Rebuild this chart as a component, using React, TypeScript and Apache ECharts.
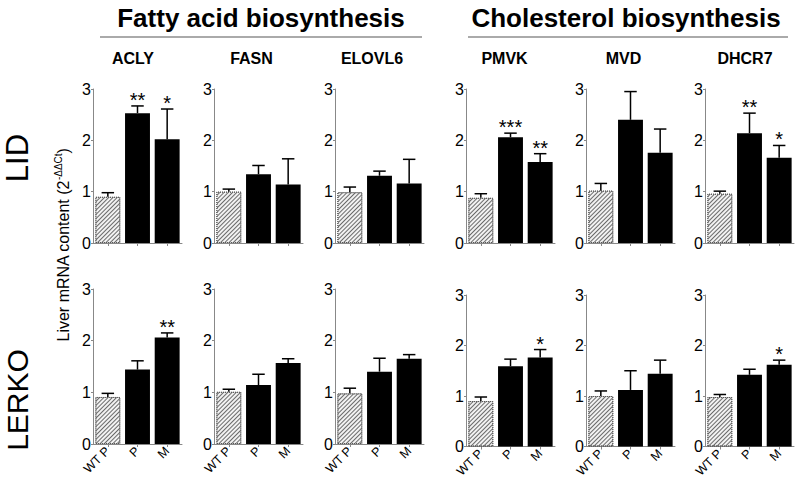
import React, { useEffect, useRef } from "react";
import * as echarts from "echarts";

const categories = ["WT P", "P", "M"];
const genes = ["ACLY", "FASN", "ELOVL6", "PMVK", "MVD", "DHCR7"];
const groupTitles = ["Fatty acid biosynthesis", "Cholesterol biosynthesis"];
const rowNames = ["LID", "LERKO"];

// LID row
const lidMean = [
  [0.9, 2.53, 2.02],
  [1.0, 1.34, 1.14],
  [0.99, 1.31, 1.16],
  [0.88, 2.06, 1.58],
  [1.02, 2.4, 1.76],
  [0.96, 2.14, 1.66],
];
const lidErr = [
  [0.08, 0.14, 0.59],
  [0.05, 0.17, 0.5],
  [0.1, 0.09, 0.47],
  [0.08, 0.08, 0.16],
  [0.14, 0.55, 0.46],
  [0.05, 0.39, 0.24],
];
const lidSig = [
  ["", "**", "*"],
  ["", "", ""],
  ["", "", ""],
  ["", "***", "**"],
  ["", "", ""],
  ["", "**", "*"],
];

// LERKO row
const lerkoMean = [
  [0.91, 1.44, 2.06],
  [1.01, 1.14, 1.57],
  [0.98, 1.4, 1.65],
  [0.9, 1.59, 1.76],
  [1.0, 1.12, 1.44],
  [0.98, 1.42, 1.62],
];
const lerkoErr = [
  [0.07, 0.17, 0.09],
  [0.05, 0.21, 0.08],
  [0.1, 0.26, 0.08],
  [0.08, 0.14, 0.16],
  [0.1, 0.38, 0.27],
  [0.05, 0.11, 0.09],
];
const lerkoSig = [
  ["", "", "**"],
  ["", "", ""],
  ["", "", ""],
  ["", "", "*"],
  ["", "", ""],
  ["", "", "*"],
];

const FONT = 'Arial, "Liberation Sans", Helvetica, sans-serif';

export default function App() {
  const ref = useRef<HTMLDivElement>(null);

  useEffect(() => {
    if (!ref.current) return;
    const chart = echarts.init(ref.current, null, { renderer: "svg" });

    const colX = [93, 214, 335, 466, 586, 705];
    const gridW = 89;
    const grids: any[] = [];
    const xAxes: any[] = [];
    const yAxes: any[] = [];
    const series: any[] = [];

    const hatch = {
      color: "#f2f2f2",
      borderColor: "#555",
      borderWidth: 1,
      borderType: [1, 1],
      decal: {
        symbol: "rect",
        symbolSize: 1,
        dashArrayX: [1, 0],
        dashArrayY: [1, 2],
        rotation: -Math.PI / 4,
        color: "#6a6a6a",
        backgroundColor: "#f4f4f4",
      },
    };

    const rows = [
      { mean: lidMean, err: lidErr, sig: lidSig },
      { mean: lerkoMean, err: lerkoErr, sig: lerkoSig },
    ];

    rows.forEach((row, r) => {
      genes.forEach((g, c) => {
        const idx = r * 6 + c;
        let top = 89;
        let height = 154;
        if (r === 1) {
          if (c < 3) {
            top = 289;
            height = 155;
          } else {
            top = 295;
            height = 151.5;
          }
        }
        grids.push({ left: colX[c], top, width: gridW, height });
        xAxes.push({
          type: "category",
          gridIndex: idx,
          data: categories,
          axisLine: { lineStyle: { color: "#888", width: 1 } },
          axisTick: { show: true, alignWithLabel: true, length: 3, lineStyle: { color: "#888" } },
          axisLabel: {
            show: r === 1,
            rotate: 45,
            fontSize: 12.5,
            color: "#000",
            fontFamily: FONT,
            margin: 5,
          },
          splitLine: { show: false },
        });
        yAxes.push({
          type: "value",
          gridIndex: idx,
          min: 0,
          max: 3,
          interval: 1,
          axisLine: { show: true, lineStyle: { color: "#888", width: 1 } },
          axisTick: { show: true, length: 2, lineStyle: { color: "#888" } },
          axisLabel: { fontSize: 16, color: "#000", fontFamily: FONT, margin: 2 },
          splitLine: { show: false },
        });
        const means = row.mean[c];
        const errs = row.err[c];
        const sigs = row.sig[c];
        series.push({
          type: "bar",
          xAxisIndex: idx,
          yAxisIndex: idx,
          barWidth: "84%",
          data: means.map((v, j) => ({
            value: v,
            itemStyle: j === 0 ? hatch : { color: "#000" },
          })),
          silent: true,
        });
        series.push({
          type: "custom",
          xAxisIndex: idx,
          yAxisIndex: idx,
          silent: true,
          z: 5,
          data: means.map((v, j) => [j, v, errs[j]]),
          encode: { x: 0, y: 1 },
          renderItem: (params: any, api: any) => {
            const j = api.value(0);
            const m = api.value(1);
            const e = api.value(2);
            const p0 = api.coord([j, m]);
            const p1 = api.coord([j, m + e]);
            const bw = api.size([1, 0])[0];
            const half = bw * 0.21;
            const s = sigs[params.dataIndex];
            const children: any[] = [
              {
                type: "line",
                shape: { x1: p0[0], y1: p0[1], x2: p1[0], y2: p1[1] },
                style: { stroke: "#000", lineWidth: 1.5 },
              },
              {
                type: "line",
                shape: { x1: p1[0] - half, y1: p1[1], x2: p1[0] + half, y2: p1[1] },
                style: { stroke: "#000", lineWidth: 1.5 },
              },
            ];
            if (s) {
              children.push({
                type: "text",
                x: p1[0],
                y: p1[1] + 4,
                style: {
                  text: s,
                  align: "center",
                  verticalAlign: "bottom",
                  fontSize: 20,
                  fontFamily: FONT,
                  fill: "#000",
                },
              });
            }
            return { type: "group", children };
          },
        });
      });
    });

    const geneCenters = [133, 251.5, 372, 504.5, 623.5, 745];

    const graphic: any[] = [
      {
        type: "text",
        x: 261,
        y: 18,
        style: {
          text: groupTitles[0],
          align: "center",
          verticalAlign: "middle",
          font: `bold 26px ${FONT}`,
          fill: "#000",
        },
      },
      {
        type: "text",
        x: 626,
        y: 18,
        style: {
          text: groupTitles[1],
          align: "center",
          verticalAlign: "middle",
          font: `bold 26px ${FONT}`,
          fill: "#000",
        },
      },
      {
        type: "line",
        shape: { x1: 100, y1: 37, x2: 422, y2: 37 },
        style: { stroke: "#aaa", lineWidth: 2 },
      },
      {
        type: "line",
        shape: { x1: 468, y1: 37, x2: 788, y2: 37 },
        style: { stroke: "#aaa", lineWidth: 2 },
      },
      ...genes.map((g, i) => ({
        type: "text",
        x: geneCenters[i],
        y: 58,
        style: {
          text: g,
          align: "center",
          verticalAlign: "middle",
          font: `bold 16px ${FONT}`,
          fill: "#000",
        },
      })),
      {
        type: "text",
        x: 17,
        y: 158,
        rotation: Math.PI / 2,
        style: {
          text: rowNames[0],
          align: "center",
          verticalAlign: "middle",
          font: `31px ${FONT}`,
          fill: "#000",
        },
      },
      {
        type: "text",
        x: 17,
        y: 400,
        rotation: Math.PI / 2,
        style: {
          text: rowNames[1],
          align: "center",
          verticalAlign: "middle",
          font: `30px ${FONT}`,
          fill: "#000",
        },
      },
      {
        type: "text",
        x: 63,
        y: 245,
        rotation: Math.PI / 2,
        style: {
          text: "Liver mRNA content (2{sup|-ΔΔCt})",
          align: "center",
          verticalAlign: "middle",
          fontSize: 16,
          fontFamily: FONT,
          fill: "#000",
          lineHeight: 19,
          rich: {
            sup: {
              fontSize: 10,
              fontFamily: FONT,
              fill: "#000",
              lineHeight: 11,
              verticalAlign: "top",
            },
          },
        },
      },
    ];

    chart.setOption({
      animation: false,
      backgroundColor: "#fff",
      grid: grids,
      xAxis: xAxes,
      yAxis: yAxes,
      series,
      graphic,
    });

    return () => chart.dispose();
  }, []);

  return (
    <div
      ref={ref}
      style={{ position: "fixed", left: 0, top: 0, width: 796, height: 484 }}
    />
  );
}
